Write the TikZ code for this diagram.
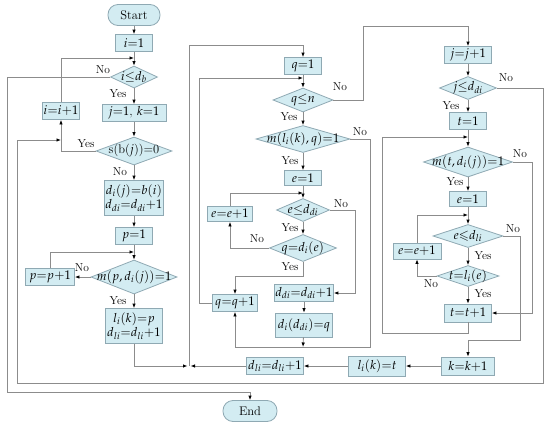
\documentclass[tikz,border=0pt]{standalone}
\usepackage{mathpazo}
\usepackage{amsmath}
\usepackage{amssymb}
\usetikzlibrary{arrows.meta}
\usetikzlibrary{shapes.geometric}
\definecolor{boxfill}{HTML}{D3ECF2}
\definecolor{boxline}{HTML}{8FA9B3}
\definecolor{wire}{HTML}{8C8C8C}
\tikzset{box/.style = {draw=boxline, fill=boxfill, line width=0.8pt, inner sep=1pt, minimum width=#1, minimum height=17}}
\tikzset{box/.default = 37}
\tikzset{dec/.style 2 args = {diamond, draw=boxline, fill=boxfill, line width=0.8pt, inner sep=0, minimum width=#1, minimum height=#2}}
\tikzset{term/.style = {draw=boxline, fill=boxfill, line width=0.8pt, rounded corners=10pt, minimum width=#1, minimum height=21}}
\tikzset{lab/.style = {inner sep=0, font=\fontsize{11.5}{13}\selectfont}}
\tikzset{arr/.style = {draw=wire, line width=0.8pt, -{Latex[length=4.5pt, width=3.5pt, color=black]}}}

\begin{document}
\begin{tikzpicture}[x=1pt, y=-1pt, font=\fontsize{12.5}{14}\selectfont]
    \useasboundingbox (0,0) rectangle (550,426);

    % left column
    \node [term=52] (start) at (134,15) {Start};
    \node [box] (iOne) at (134,43) {$i{=}1$};
    \node [dec={47}{22}, label=center:{$i{\le}d_b$}] (chkI) at (134,77) {};
    \node [box=64] (jkOne) at (134,113) {$j{=}1$, $k{=}1$};
    \node [box=34] (incI) at (61,111) {$i{=}i{+}1$};
    \node [dec={76}{28}, label=center:{s(b($j$))=0}] (chkS) at (134,151) {};
    \node [box=58, minimum height=35, align=center] (setD) at (134,198) {$d_i(j){=}b(i)$\\$d_{di}{=}d_{di}{+}1$};
    \node [box] (pOne) at (134,236) {$p{=}1$};
    \node [dec={86}{34}, label=center:{$m(p,d_i(j)){=}1$}] (chkP) at (134,277) {};
    \node [box=49] (incP) at (50,277) {$p{=}p{+}1$};
    \node [box=57, minimum height=35, align=center] (setL) at (134,326) {$l_i(k){=}p$\\$d_{li}{=}d_{li}{+}1$};
    \node [term=54] (stop) at (250,411) {End};

    % middle column
    \node [box] (qOne) at (303,66) {$q{=}1$};
    \node [dec={60}{24}, label=center:{$q{\le}n$}] (chkQ) at (303,100) {};
    \node [dec={94}{27}, label=center:{$m(l_i(k),q){=}1$}] (chkM) at (303,139) {};
    \node [box, minimum height=15] (eOne) at (303,178) {$e{=}1$};
    \node [dec={53}{23}, label=center:{$e{\le}d_{di}$}] (chkE) at (303,210) {};
    \node [box=45, minimum height=15] (incE) at (230,214) {$e{=}e{+}1$};
    \node [dec={67}{27}, label=center:{$q{=}d_i(e)$}] (chkQE) at (303,248) {};
    \node [box=55] (incDd) at (304,293) {$d_{di}{=}d_{di}{+}1$};
    \node [box=57, minimum height=24] (setDd) at (304,325) {$d_i(d_{di}){=}q$};
    \node [box=45] (incQ) at (235,303) {$q{=}q{+}1$};

    % bottom row
    \node [box=57] (incDl) at (275,366) {$d_{li}{=}d_{li}{+}1$};
    \node [box=57, minimum height=20] (setLt) at (377,366) {$l_i(k){=}t$};
    \node [box=53, minimum height=18] (incK) at (468,366) {$k{=}k{+}1$};

    % right column
    \node [box=47] (incJ) at (468,55) {$j{=}j{+}1$};
    \node [dec={57}{23}, label=center:{$j{\le}d_{di}$}] (chkJ) at (468,88) {};
    \node [box] (tOne) at (468,121) {$t{=}1$};
    \node [dec={89}{30}, label=center:{$m(t,d_i(j)){=}1$}] (chkT) at (468,162) {};
    \node [box, minimum height=15] (eOneB) at (468,199) {$e{=}1$};
    \node [dec={70}{23}, label=center:{$e{\leqslant}d_{li}$}] (chkEB) at (468,236) {};
    \node [box=48, minimum height=16] (incEB) at (417,251) {$e{=}e{+}1$};
    \node [dec={62}{21}, label=center:{$t{=}l_i(e)$}] (chkTL) at (468,276) {};
    \node [box=47, minimum height=18] (incT) at (468,313) {$t{=}t{+}1$};

    % merge points
    \coordinate (mI) at (134,58);
    \coordinate (mS) at (61,140);
    \coordinate (mP) at (134,252);
    \coordinate (mQ) at (303,78);
    \coordinate (mE) at (303,193);
    \coordinate (mT) at (468,137);
    \coordinate (mEB) at (468,215);
    \coordinate (jn) at (189,366);
    \coordinate (mBot) at (303,347);

    % left column flow
    \draw [arr] (start) -- (iOne);
    \draw [arr] (iOne) -- (chkI);
    \draw [arr] (incI) |- (mI);
    \draw [arr] (chkI) -- (jkOne);
    \draw [arr] (jkOne) -- (chkS);
    \draw [arr] (chkS.west) -| (incI);
    \draw [arr] (chkS) -- (setD);
    \draw [arr] (setD) -- (pOne);
    \draw [arr] (pOne) -- (chkP);
    \draw [arr] (incP) |- (mP);
    \draw [arr] (chkP.west) -- (incP);
    \draw [arr] (chkP) -- (setL);
    \draw [arr, shorten >=1.5pt] (setL) |- (jn);
    \draw [arr] (chkI.west) -| (7,392) -| (stop);

    % middle column flow
    \draw [arr] (jn) -- (189,45) -| (qOne);
    \draw [arr] (qOne) -- (chkQ);
    \draw [arr] (incQ.west) -- (199,303) |- (mQ);
    \draw [arr] (chkQ.east) -| (363,26) -| (incJ);
    \draw [arr] (chkQ) -- (chkM);
    \draw [arr] (chkM) -- (eOne);
    \draw [arr] (chkM.east) -| (370,347) -| (incQ);
    \draw [arr] (eOne) -- (chkE);
    \draw [arr] (incE) |- (mE);
    \draw [arr] (chkE) -- (chkQE);
    \draw [arr] (chkQE.west) -| (incE);
    \draw [arr] (chkQE.south) -- (303,276) -| (incQ);
    \draw [arr] (chkE.east) -| (355,293) -- (incDd.east);
    \draw [arr] (incDd) -- (setDd);
    \draw [arr] (setDd) -- (mBot);

    % bottom row flow
    \draw [arr] (incK) -- (setLt);
    \draw [arr] (setLt) -- (incDl);
    \draw [arr, shorten >=1.5pt] (incDl) -- (jn);

    % right column flow
    \draw [arr] (incJ) -- (chkJ);
    \draw [arr] (chkJ) -- (tOne);
    \draw [arr] (chkJ.east) -| (543,383) -| (17,140) -- (mS);
    \draw [arr] (tOne) -- (chkT);
    \draw [arr] (incT) -- (468,333) -| (382,137) -- (mT);
    \draw [arr] (chkT) -- (eOneB);
    \draw [arr] (chkT.east) -| (532,313) -- (incT.east);
    \draw [arr] (eOneB) -- (chkEB);
    \draw [arr] (incEB) |- (mEB);
    \draw [arr] (chkEB) -- (chkTL);
    \draw [arr] (chkTL.west) -| (incEB);
    \draw [arr] (chkTL) -- (incT);
    \draw [arr] (chkEB.east) -| (520,340) -| (incK);

    % yes / no
    \node [lab] (nI) at (103,70) {No};
    \node [lab] (yI) at (118,94) {Yes};
    \node [lab] (yS) at (86,144) {Yes};
    \node [lab] (nS) at (120,172) {No};
    \node [lab] (nP) at (82,268) {No};
    \node [lab] (yP) at (118,301) {Yes};
    \node [lab] (nQ) at (340,87) {No};
    \node [lab] (yQ) at (289,117) {Yes};
    \node [lab] (nM) at (360,132) {No};
    \node [lab] (yM) at (290,161) {Yes};
    \node [lab] (nE) at (341,204) {No};
    \node [lab] (yE) at (290,228) {Yes};
    \node [lab] (nQE) at (257,239) {No};
    \node [lab] (yQE) at (290,267) {Yes};
    \node [lab] (nJ) at (506,78) {No};
    \node [lab] (yJ) at (451,106) {Yes};
    \node [lab] (nT) at (520,154) {No};
    \node [lab] (yT) at (455,182) {Yes};
    \node [lab] (nEB) at (513,229) {No};
    \node [lab] (yEB) at (483,256) {Yes};
    \node [lab] (nTL) at (431,284) {No};
    \node [lab] (yTL) at (483,294) {Yes};
  \end{tikzpicture}
\end{document}
